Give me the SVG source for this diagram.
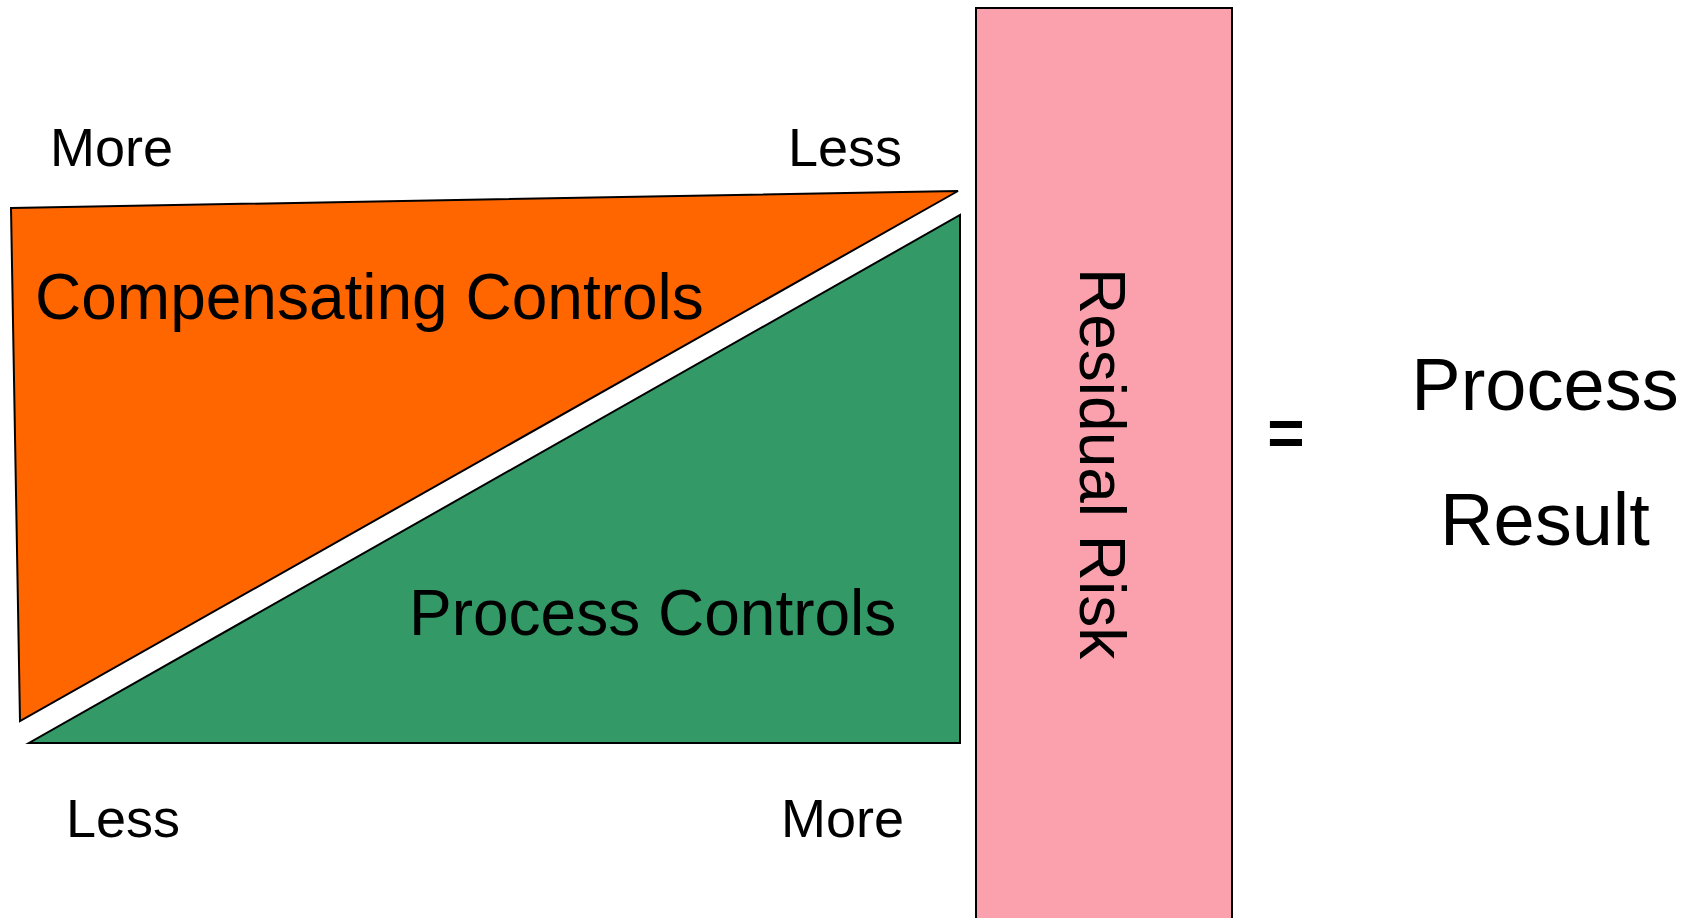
<svg xmlns="http://www.w3.org/2000/svg" width="1697" height="918" viewBox="0 0 1697 918">
  <style>
    .shape { stroke: #000000; stroke-width: 2; stroke-linejoin: miter; }
    .label { font-family: "Liberation Sans", Arial, sans-serif; fill: #000000; }
    .axis { font-size: 54px; }
    .big { font-size: 64px; }
    .result { font-size: 74px; text-anchor: middle; }
  </style>
  <rect x="0" y="0" width="1697" height="918" fill="#ffffff"/>

  <!-- compensating controls wedge -->
  <g id="compensating-controls">
    <polygon class="shape" fill="#FF6600" points="11,208 958,191 20,721"/>
    <text class="label big" x="35" y="319">Compensating Controls</text>
  </g>

  <!-- process controls wedge -->
  <g id="process-controls">
    <polygon class="shape" fill="#339966" points="960,215 960,743 29,743"/>
    <text class="label big" x="409" y="635">Process Controls</text>
  </g>

  <!-- residual risk bar -->
  <g id="residual-risk">
    <rect class="shape" fill="#FBA1AD" x="976" y="8" width="256" height="920"/>
    <text class="label big" transform="translate(1080,268) rotate(90)">Residual Risk</text>
  </g>

  <!-- scale labels -->
  <g id="scale-labels">
    <text class="label axis" x="50" y="166">More</text>
    <text class="label axis" x="788" y="166">Less</text>
    <text class="label axis" x="66" y="837">Less</text>
    <text class="label axis" x="781" y="837">More</text>
  </g>

  <!-- equals sign -->
  <g id="equals">
    <text class="label big" x="1286" y="455" text-anchor="middle" font-weight="bold">=</text>
  </g>

  <!-- outcome -->
  <g id="process-result">
    <text class="label result" x="1545" y="410">Process</text>
    <text class="label result" x="1545" y="545">Result</text>
  </g>
</svg>
